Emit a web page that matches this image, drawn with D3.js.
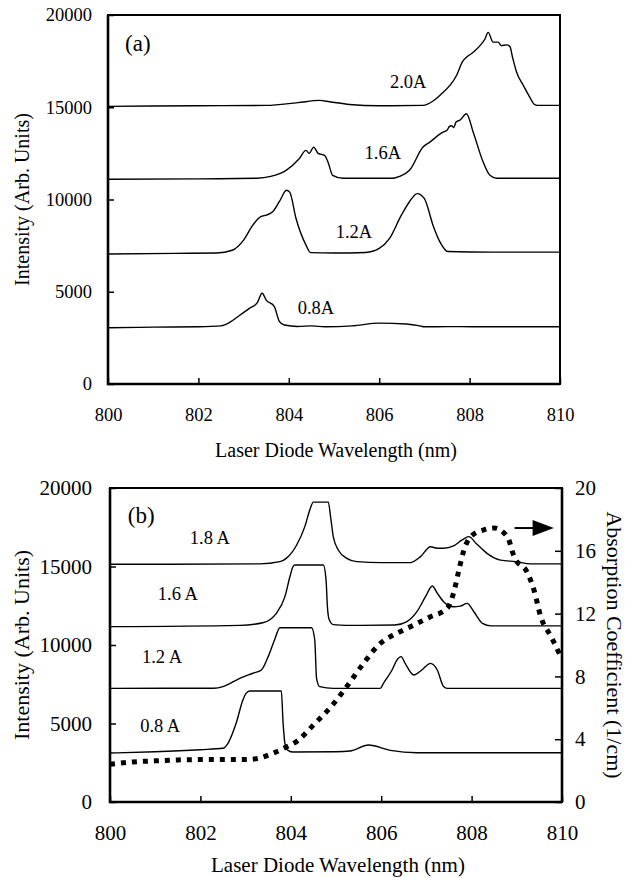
<!DOCTYPE html>
<html>
<head>
<meta charset="utf-8">
<script src="https://cdn.jsdelivr.net/npm/d3@7/dist/d3.min.js"></script>
<style>
  body { margin: 0; background: #fff; }
  svg, svg text { font-family: "Liberation Serif", "Times New Roman", serif; }
  svg { display: block; }
</style>
</head>
<body>
<div id="chart"></div>
<script>
// Data: [wavelength (nm), intensity (arb. units)]
//=====================================================================
var xTicks = [800, 802, 804, 806, 808, 810];
var yTicks = [0, 5000, 10000, 15000, 20000];
var alphaTicks = [0, 4, 8, 12, 16, 20];

// (a) spectra
var specA08 = [[800, 3050], [801, 3080], [802, 3100], [802.5, 3150], [802.7, 3350], [802.9, 3700],
  [803.13, 4100], [803.3, 4400], [803.41, 4920], [803.5, 4550], [803.68, 4200], [803.79, 3400],
  [803.9, 3200], [804.2, 3120], [804.5, 3150], [804.8, 3100], [805.4, 3150], [806.0, 3300],
  [806.6, 3250], [806.9, 3150], [807.0, 3100], [807.5, 3110], [808.5, 3100], [810, 3100]];
var specA12 = [[800, 7050], [801.5, 7080], [802.4, 7100], [802.75, 7250], [803.0, 7800], [803.2, 8600],
  [803.38, 9070], [803.5, 9150], [803.64, 9330], [803.79, 9880], [803.95, 10500], [804.02, 10400],
  [804.16, 8970], [804.38, 7530], [804.48, 7120], [805, 7100], [805.7, 7130], [806.0, 7350],
  [806.23, 7890], [806.49, 9150], [806.67, 9880], [806.84, 10320], [807.0, 10050], [807.19, 8610],
  [807.34, 7720], [807.52, 7180], [808.5, 7150], [810, 7150]];
var specA16 = [[800, 11100], [802, 11120], [803.3, 11150], [803.6, 11250], [803.94, 11580], [804.23, 12210],
  [804.38, 12660], [804.45, 12500], [804.55, 12840], [804.65, 12500], [804.79, 12390], [804.87, 12010],
  [804.97, 11310], [805.2, 11150], [806.3, 11150], [806.45, 11250], [806.67, 11580], [806.97, 12840],
  [807.12, 13110], [807.41, 13650], [807.5, 13750], [807.55, 13950], [807.6, 14000], [807.65, 13900],
  [807.7, 14200], [807.79, 14310], [807.93, 14650], [808.08, 13650], [808.3, 12030], [808.45, 11310],
  [808.6, 11150], [810, 11150]];
var specA20 = [[800, 15050], [802, 15080], [803.5, 15100], [804.2, 15250], [804.68, 15370], [804.9, 15300],
  [805.34, 15150], [806, 15080], [806.97, 15100], [807.2, 15350], [807.34, 15640], [807.71, 16720],
  [807.85, 17500], [807.93, 17710], [808.08, 17980], [808.23, 18340], [808.34, 18700], [808.41, 19060],
  [808.52, 18530], [808.63, 18530], [808.7, 18340], [808.82, 18380], [808.89, 18300], [808.95, 17710],
  [809.04, 16900], [809.19, 16180], [809.33, 15550], [809.43, 15160], [809.5, 15100], [810, 15100]];

// (b) spectra
var specB08 = [[800, 3120], [801, 3200], [802, 3330], [802.5, 3420], [802.61, 3740], [802.79, 5010],
  [802.94, 6500], [803.01, 6920], [803.09, 7070], [803.79, 7070], [803.83, 5010], [803.87, 3740],
  [803.94, 3290], [804.05, 3180], [805.0, 3200], [805.31, 3250], [805.72, 3630], [806.2, 3290],
  [806.8, 3140], [810, 3140]];
var specB12 = [[800, 7240], [802.3, 7250], [802.5, 7350], [802.87, 7880], [803.16, 8200], [803.35, 8410],
  [803.5, 9260], [803.64, 10320], [803.76, 11100], [804.46, 11100], [804.53, 10320], [804.57, 7880],
  [804.64, 7350], [804.94, 7240], [805.98, 7240], [806.05, 7560], [806.24, 8410], [806.35, 9050],
  [806.44, 9260], [806.53, 8830], [806.72, 8090], [806.9, 8410], [807.09, 8830], [807.24, 8410],
  [807.38, 7350], [807.46, 7240], [810, 7240]];
var specB16 = [[800, 11170], [802.87, 11250], [803.38, 11420], [803.68, 12020], [803.87, 13080], [803.98, 14350],
  [804.05, 15000], [804.09, 15100], [804.72, 15100], [804.78, 14140], [804.81, 12440], [804.85, 11610],
  [804.94, 11300], [805.24, 11250], [806.3, 11270], [806.57, 11490], [806.79, 12120], [806.98, 13080],
  [807.13, 13760], [807.24, 13300], [807.38, 12760], [807.6, 12440], [807.75, 12480], [807.9, 12650],
  [808.05, 12120], [808.24, 11380], [808.43, 11220], [810, 11220]];
var specB18 = [[800, 15140], [803.31, 15170], [803.76, 15310], [803.9, 15520], [804.13, 16370], [804.31, 17540],
  [804.42, 18600], [804.5, 19100], [804.83, 19100], [804.88, 18170], [804.94, 16900], [805.05, 16050],
  [805.24, 15520], [805.46, 15310], [806.0, 15250], [806.64, 15250], [806.87, 15630], [807.09, 16260],
  [807.24, 16160], [807.38, 16160], [807.6, 16310], [807.79, 16690], [807.94, 16900], [808.1, 16470],
  [808.34, 15840], [808.64, 15410], [808.98, 15310], [809.31, 15170], [810, 15170]];

// (b) absorption coefficient, [wavelength (nm), 1/cm]
var absorption = [[800.0, 2.4], [800.5, 2.55], [801.0, 2.62], [801.5, 2.68], [802.0, 2.7], [802.5, 2.7],
  [803.0, 2.7], [803.3, 2.8], [803.6, 3.1], [803.9, 3.5], [804.15, 3.9], [804.5, 4.9], [804.9, 6.1],
  [805.25, 7.4], [805.6, 8.8], [805.98, 10.1], [806.35, 10.75], [806.72, 11.27], [807.09, 11.8],
  [807.46, 12.34], [807.6, 13.3], [807.72, 14.78], [807.83, 16.05], [807.98, 16.9], [808.27, 17.33],
  [808.5, 17.45], [808.79, 16.9], [808.94, 15.63], [809.24, 14.57], [809.38, 13.5], [809.53, 11.8],
  [809.76, 10.53], [809.95, 9.4]];

// curve labels: [text, wavelength, intensity]
var labelsA = [["2.0A", 806.64, 16370], ["1.6A", 806.08, 12520], ["1.2A", 805.44, 8240], ["0.8A", 804.6, 4170]];
var labelsB = [["1.8 A", 802.21, 16820], ["1.6 A", 801.5, 13310], ["1.2 A", 801.15, 9240], ["0.8 A", 801.11, 4900]];

// Set up the svg
//=====================================================================
var svgWidth = 642;
var svgHeight = 878;
var serif = "'Liberation Serif', 'Times New Roman', serif";

var svg = d3.select("#chart")
  .append("svg")
  .attr("width", svgWidth)
  .attr("height", svgHeight);

function styleAxis(a, fontSize) {
  a.attr("font-family", serif).attr("font-size", fontSize);
  a.select(".domain").remove();
  a.selectAll("line").attr("stroke", "#000").attr("stroke-width", 1.5);
  a.selectAll("text")
    .attr("fill", "#000")
    .style("font-family", serif)
    .style("font-size", fontSize + "px");
}

function drawPanel(p) {
  var width = p.right - p.left;
  var height = p.bottom - p.top;
  var g = svg.append("g").attr("transform", `translate(${p.left}, ${p.top})`);

  var x = d3.scaleLinear().domain([800, 810]).range([0, width]);
  var y = d3.scaleLinear().domain([0, 20000]).range([height, 0]);

  // axes, ticks pointing inward
  var bottomAxis = d3.axisBottom(x).tickValues(xTicks).tickSize(-6).tickPadding(p.xPad).tickFormat(d3.format("d"));
  var leftAxis = d3.axisLeft(y).tickValues(yTicks).tickSize(-6).tickPadding(p.yPad).tickFormat(d3.format("d"));

  styleAxis(g.append("g").attr("transform", `translate(0, ${height})`).call(bottomAxis), p.tickFont);
  styleAxis(g.append("g").call(leftAxis), p.tickFont);

  var line = d3.line().x(d => x(d[0])).y(d => y(d[1])).curve(d3.curveMonotoneX);
  p.series.forEach(function (s) {
    g.append("path")
      .datum(s)
      .attr("d", line)
      .attr("fill", "none")
      .attr("stroke", "#000")
      .attr("stroke-width", 1.4)
      .attr("stroke-linejoin", "round");
  });

  // curve labels
  p.labels.forEach(function (l) {
    g.append("text")
      .attr("x", x(l[1]))
      .attr("y", y(l[2]))
      .attr("dy", "0.35em")
      .attr("text-anchor", "middle")
      .style("font-size", p.labelFont + "px")
      .text(l[0]);
  });

  g.append("text")
    .attr("x", x(p.tag[1]))
    .attr("y", y(p.tag[2]))
    .attr("dy", "0.35em")
    .attr("text-anchor", "middle")
    .style("font-size", "23px")
    .text(p.tag[0]);

  // frame
  g.append("rect")
    .attr("width", width)
    .attr("height", height)
    .attr("fill", "none")
    .attr("stroke", "#000")
    .attr("stroke-width", 2);
  g.append("path")
    .attr("d", `M0,0V${height}H${width}`)
    .attr("fill", "none")
    .attr("stroke", "#000")
    .attr("stroke-width", 2.6);

  // axis titles
  g.append("text")
    .attr("x", width / 2 + 2)
    .attr("y", height + p.titleOffset)
    .attr("text-anchor", "middle")
    .style("font-size", p.titleFont + "px")
    .text("Laser Diode Wavelength (nm)");

  g.append("text")
    .attr("transform", `translate(${p.yTitleX - p.left}, ${height / 2}) rotate(-90)`)
    .attr("text-anchor", "middle")
    .attr("dy", "0.35em")
    .style("font-size", p.yTitleFont + "px")
    .text("Intensity (Arb. Units)");

  return { g: g, x: x, y: y, width: width, height: height };
}

// Panel (a)
//=====================================================================
drawPanel({
  left: 108, right: 560, top: 15, bottom: 384,
  xPad: 24, yPad: 16, tickFont: 18.5, labelFont: 18.5, titleFont: 20, yTitleFont: 20,
  titleOffset: 73, yTitleX: 22,
  series: [specA08, specA12, specA16, specA20],
  labels: labelsA,
  tag: ["(a)", 800.66, 18480]
});

// Panel (b)
//=====================================================================
var pb = drawPanel({
  left: 110, right: 562, top: 488, bottom: 802,
  xPad: 23, yPad: 18, tickFont: 21, labelFont: 18.5, titleFont: 21, yTitleFont: 22,
  titleOffset: 70, yTitleX: 21,
  series: [specB08, specB12, specB16, specB18],
  labels: labelsB,
  tag: ["(b)", 800.69, 18280]
});

// right axis: absorption coefficient
var yAlpha = d3.scaleLinear().domain([0, 20]).range([pb.height, 0]);
var rightAxis = d3.axisRight(yAlpha).tickValues(alphaTicks).tickSize(-7).tickPadding(13);
styleAxis(pb.g.append("g").attr("transform", `translate(${pb.width}, 0)`).call(rightAxis), 21);
pb.g.append("line")
  .attr("x1", pb.width).attr("x2", pb.width)
  .attr("y1", 0).attr("y2", pb.height)
  .attr("stroke", "#000").attr("stroke-width", 2.6);

pb.g.append("path")
  .datum(absorption)
  .attr("d", d3.line().x(d => pb.x(d[0])).y(d => yAlpha(d[1])).curve(d3.curveMonotoneX))
  .attr("fill", "none")
  .attr("stroke", "#000")
  .attr("stroke-width", 5)
  .attr("stroke-dasharray", "5 6");

// arrow pointing to the right axis
var arrowY = yAlpha(17.45);
pb.g.append("line")
  .attr("x1", pb.x(808.95)).attr("x2", pb.x(809.4))
  .attr("y1", arrowY).attr("y2", arrowY)
  .attr("stroke", "#000").attr("stroke-width", 2);
pb.g.append("path")
  .attr("d", `M${pb.x(809.35)},${arrowY - 8}L${pb.x(809.82)},${arrowY}L${pb.x(809.35)},${arrowY + 8}Z`)
  .attr("fill", "#000");

svg.append("text")
  .attr("transform", `translate(615, ${488 + pb.height / 2}) rotate(90)`)
  .attr("text-anchor", "middle")
  .attr("dy", "0.35em")
  .style("font-size", "22px")
  .text("Absorption Coefficient (1/cm)");
</script>
</body>
</html>
